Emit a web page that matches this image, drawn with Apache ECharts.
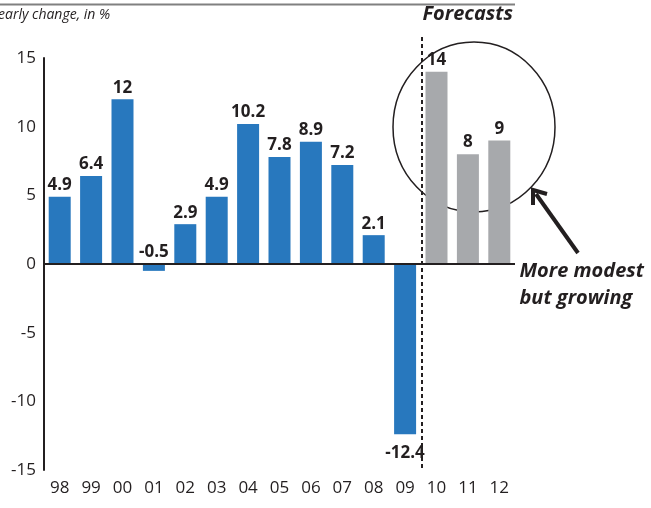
<!DOCTYPE html>
<html>
<head>
<meta charset="utf-8">
<script src="https://cdn.jsdelivr.net/npm/echarts@6/dist/echarts.min.js"></script>
<style>
  html, body { margin: 0; padding: 0; background: #fff; }
  #chart { width: 651px; height: 508px; }
</style>
</head>
<body>
<div id="chart"></div>
<script>
// Yearly change, in %; the last three years are forecasts
const years = ['98','99','00','01','02','03','04','05','06','07','08','09','10','11','12'];
const changes = [4.9, 6.4, 12, -0.5, 2.9, 4.9, 10.2, 7.8, 8.9, 7.2, 2.1, -12.4, 14, 8, 9];
const forecastFrom = '10';
const yTicks = { min: -15, max: 15, step: 5 };

const BLUE = '#2878be';
const GREY = '#a7a9ac';
const INK = '#231f20';
const FONT = '"Open Sans", "Noto Sans", sans-serif';

const firstForecast = years.indexOf(forecastFrom);
const barData = changes.map((v, i) => {
  const below = v < -5;
  return {
    value: v,
    itemStyle: { color: i >= firstForecast ? GREY : BLUE },
    label: { position: below ? 'bottom' : 'top', distance: below ? 10 : 3 }
  };
});

const chart = echarts.init(document.getElementById('chart'), null, { renderer: 'canvas' });

const option = {
  animation: false,
  grid: { left: 44, right: 136, top: 58, bottom: 38, containLabel: false },
  xAxis: {
    type: 'category',
    data: years,
    axisLine: { show: false },
    axisTick: { show: false },
    axisLabel: { color: INK, fontFamily: FONT, fontSize: 17, margin: 10 }
  },
  yAxis: {
    type: 'value',
    min: yTicks.min,
    max: yTicks.max,
    interval: yTicks.step,
    axisLine: { show: true, lineStyle: { color: INK, width: 2 } },
    axisTick: { show: false },
    splitLine: { show: false },
    axisLabel: { color: INK, fontFamily: FONT, fontSize: 17, margin: 8 }
  },
  series: [{
    type: 'bar',
    data: barData,
    barWidth: 22,
    label: {
      show: true,
      color: INK,
      fontFamily: FONT,
      fontWeight: 'bold',
      fontSize: 17
    },
    // zero baseline
    markLine: {
      silent: true,
      symbol: 'none',
      label: { show: false },
      lineStyle: { color: INK, width: 2, type: 'solid' },
      data: [{ yAxis: 0 }]
    }
  }],
  graphic: [
    // rule along the top
    { type: 'line', shape: { x1: 0, y1: 4.5, x2: 515, y2: 4.5 }, style: { stroke: '#808080', lineWidth: 2 } },
    {
      type: 'text', left: -2, top: 8,
      style: { text: 'early change, in %', fill: INK, font: 'italic 14px ' + FONT }
    },
    {
      type: 'text', right: 138, top: 4,
      style: { text: 'Forecasts', fill: INK, font: 'italic bold 20px ' + FONT }
    },
    // divider before the forecast years
    {
      type: 'line', shape: { x1: 422, y1: 37, x2: 422, y2: 470 },
      style: { stroke: INK, lineWidth: 2, lineDash: [4, 3] }
    },
    // ring around the forecasts
    {
      type: 'ellipse', shape: { cx: 474, cy: 127, rx: 81, ry: 85 },
      style: { fill: 'none', stroke: INK, lineWidth: 1.5 }
    },
    // arrow pointing to the ring
    {
      type: 'line', shape: { x1: 578, y1: 253, x2: 536, y2: 194 },
      style: { stroke: INK, lineWidth: 4 }
    },
    {
      type: 'polyline', shape: { points: [[533, 205], [533, 190], [547, 194]] },
      style: { stroke: INK, lineWidth: 4, fill: 'none', lineJoin: 'miter' }
    },
    {
      type: 'text', right: 7, top: 258,
      style: {
        text: 'More modest\nbut growing', align: 'right', fill: INK,
        font: 'italic bold 20px ' + FONT, lineHeight: 27
      }
    }
  ]
};

chart.setOption(option);
</script>
</body>
</html>
